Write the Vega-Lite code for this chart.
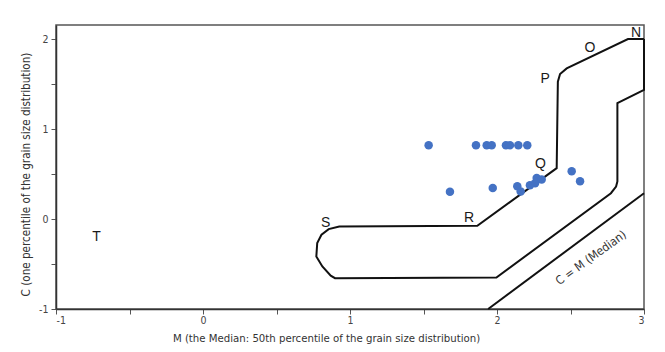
{
  "$schema": "https://vega.github.io/schema/vega-lite/v6.json",
  "width": 588,
  "height": 284,
  "autosize": {"type": "none"},
  "padding": {"left": 56, "top": 25, "right": 21, "bottom": 43},
  "background": "white",
  "config": {
    "view": {"stroke": "#555", "strokeWidth": 1.5},
    "axis": {
      "domainColor": "#333", "domainWidth": 1.5,
      "tickColor": "#555", "tickWidth": 1, "tickSize": 5,
      "grid": false,
      "labelFont": "DejaVu Sans Condensed, Liberation Sans", "labelFontSize": 10.5, "labelColor": "#444",
      "titleFont": "DejaVu Sans Condensed, Liberation Sans", "titleFontSize": 11.3, "titleFontWeight": "normal", "titleColor": "#333"
    }
  },
  "datasets": {
    "samples": [
      {"M": 1.535, "C": 0.82}, {"M": 1.857, "C": 0.82}, {"M": 1.93, "C": 0.82}, {"M": 1.964, "C": 0.82},
      {"M": 2.061, "C": 0.82}, {"M": 2.088, "C": 0.82}, {"M": 2.145, "C": 0.82}, {"M": 2.206, "C": 0.82},
      {"M": 1.68, "C": 0.303}, {"M": 1.971, "C": 0.345}, {"M": 2.138, "C": 0.365}, {"M": 2.161, "C": 0.305},
      {"M": 2.224, "C": 0.375}, {"M": 2.259, "C": 0.398}, {"M": 2.27, "C": 0.455}, {"M": 2.304, "C": 0.44},
      {"M": 2.508, "C": 0.53}, {"M": 2.565, "C": 0.42}
    ],
    "paths": [
      {"seg": "field", "i": 1, "M": 3.0, "C": 2.0},
      {"seg": "field", "i": 2, "M": 2.891, "C": 2.0},
      {"seg": "field", "i": 3, "M": 2.474, "C": 1.674},
      {"seg": "field", "i": 4, "M": 2.429, "C": 1.612},
      {"seg": "field", "i": 5, "M": 2.414, "C": 1.526},
      {"seg": "field", "i": 6, "M": 2.406, "C": 0.565},
      {"seg": "field", "i": 7, "M": 1.866, "C": -0.075},
      {"seg": "field", "i": 8, "M": 0.927, "C": -0.083},
      {"seg": "field", "i": 9, "M": 0.855, "C": -0.112},
      {"seg": "field", "i": 10, "M": 0.806, "C": -0.175},
      {"seg": "field", "i": 11, "M": 0.777, "C": -0.268},
      {"seg": "field", "i": 12, "M": 0.771, "C": -0.416},
      {"seg": "field", "i": 13, "M": 0.812, "C": -0.527},
      {"seg": "field", "i": 14, "M": 0.869, "C": -0.63},
      {"seg": "field", "i": 15, "M": 0.898, "C": -0.658},
      {"seg": "field", "i": 16, "M": 1.996, "C": -0.65},
      {"seg": "field", "i": 17, "M": 2.775, "C": 0.287},
      {"seg": "field", "i": 18, "M": 2.81, "C": 0.361},
      {"seg": "field", "i": 19, "M": 2.819, "C": 0.418},
      {"seg": "field", "i": 20, "M": 2.819, "C": 1.288},
      {"seg": "field", "i": 21, "M": 3.0, "C": 1.434},
      {"seg": "field", "i": 22, "M": 3.0, "C": 2.0},
      {"seg": "cm", "i": 1, "M": 1.94, "C": -1.0},
      {"seg": "cm", "i": 2, "M": 3.0, "C": 0.287}
    ],
    "letters": [
      {"t": "N", "M": 2.946, "C": 2.065},
      {"t": "O", "M": 2.632, "C": 1.9},
      {"t": "P", "M": 2.327, "C": 1.555},
      {"t": "Q", "M": 2.295, "C": 0.612},
      {"t": "R", "M": 1.81, "C": 0.008},
      {"t": "S", "M": 0.835, "C": -0.04},
      {"t": "T", "M": -0.724, "C": -0.2}
    ],
    "notes": [
      {"t": "C = M (Median)", "M": 2.639, "C": -0.43}
    ]
  },
  "layer": [
    {
      "data": {"name": "paths"},
      "mark": {"type": "line", "color": "#111", "strokeWidth": 2, "clip": false},
      "encoding": {
        "x": {"field": "M", "type": "quantitative", "scale": {"domain": [-1, 3], "nice": false, "zero": false},
          "axis": {"values": [-1, -0.5, 0, 0.5, 1, 1.5, 2, 2.5, 3],
            "labelExpr": "datum.value % 1 == 0 ? toString(datum.value) : ''",
            "labelPadding": 1,
            "title": "M  (the Median: 50th percentile of the grain size distribution)",
            "titleAnchor": "start", "titleAlign": "center", "titleX": 270, "titleY": 32, "titleBaseline": "alphabetic"}},
        "y": {"field": "C", "type": "quantitative", "scale": {"domain": [-1, 2.156], "nice": false, "zero": false},
          "axis": {"values": [-1, -0.5, 0, 0.5, 1, 1.5, 2],
            "labelExpr": "datum.value % 1 == 0 ? toString(datum.value) : ''",
            "labelPadding": 3,
            "title": "C  (one percentile of the grain size distribution)",
            "titleFontSize": 11.6,
            "titleAlign": "center", "titleX": -25, "titleY": 149, "titleAngle": -90}},
        "detail": {"field": "seg"},
        "order": {"field": "i", "type": "quantitative"}
      }
    },
    {
      "data": {"name": "samples"},
      "mark": {"type": "point", "filled": true, "shape": "circle", "size": 72, "color": "#4472c4", "opacity": 1},
      "encoding": {
        "x": {"field": "M", "type": "quantitative"},
        "y": {"field": "C", "type": "quantitative"}
      }
    },
    {
      "data": {"name": "letters"},
      "mark": {"type": "text", "font": "Liberation Sans", "fontSize": 14, "color": "#1a1a1a", "align": "center", "baseline": "middle"},
      "encoding": {
        "x": {"field": "M", "type": "quantitative"},
        "y": {"field": "C", "type": "quantitative"},
        "text": {"field": "t"}
      }
    },
    {
      "data": {"name": "notes"},
      "mark": {"type": "text", "font": "DejaVu Sans Condensed, Liberation Sans", "fontSize": 12, "color": "#333", "align": "center", "baseline": "middle", "angle": -36},
      "encoding": {
        "x": {"field": "M", "type": "quantitative"},
        "y": {"field": "C", "type": "quantitative"},
        "text": {"field": "t"}
      }
    }
  ]
}
